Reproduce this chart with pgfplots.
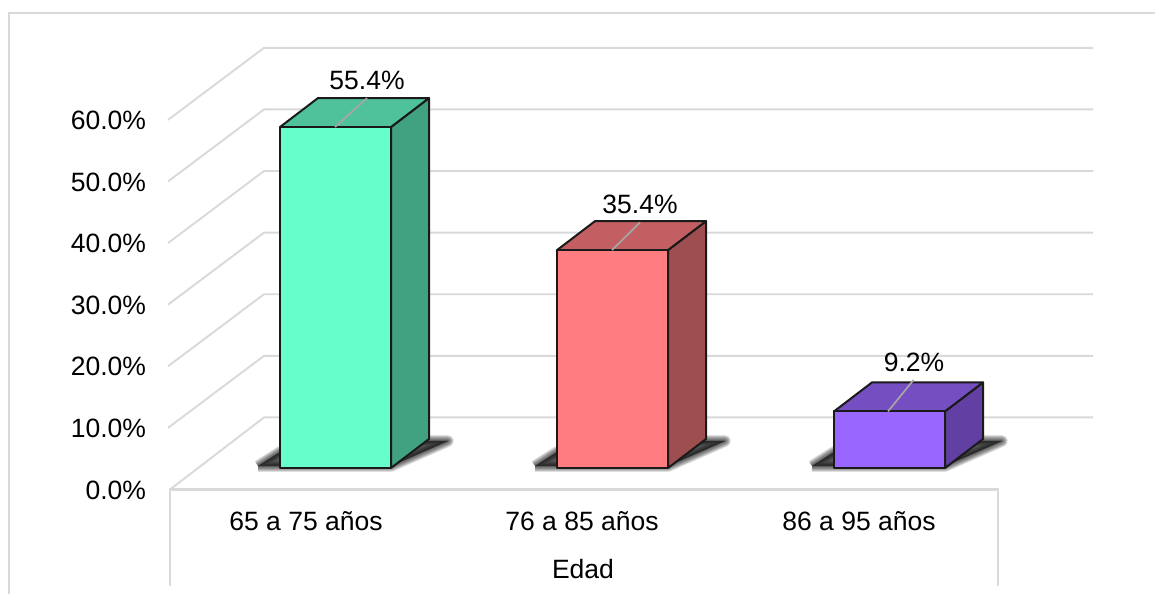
\documentclass[border=0pt]{standalone}
\usepackage{pgfplots}
\pgfplotsset{compat=1.18}
\usepackage{fontspec}
\setmainfont{Liberation Sans}
\newcommand\lab{\fontsize{26.5}{30}\selectfont}
\definecolor{gridc}{HTML}{D9D9D9}
\definecolor{edgec}{HTML}{1A1A1A}
\definecolor{leadc}{HTML}{A6A6A6}
\definecolor{fa}{HTML}{66FFCC}\definecolor{ta}{HTML}{4FC29B}\definecolor{sa}{HTML}{40A280}
\definecolor{fb}{HTML}{FF7C80}\definecolor{tb}{HTML}{C35F62}\definecolor{sb}{HTML}{9F4E50}
\definecolor{fc}{HTML}{9966FF}\definecolor{tc}{HTML}{754EC2}\definecolor{sc}{HTML}{613FA3}
\pgfplotsset{
  base/.style={scale only axis, width=1156pt, height=595pt, xmin=0, xmax=1156,
    axis line style={draw=none}, tick style={draw=none}, enlargelimits=false},
  grd/.style={draw=gridc, line width=1.9pt, no marks, forget plot},
  edge/.style={draw=edgec, line width=2pt, line join=round, no marks, forget plot},
  frontbar/.style={ybar, bar shift=0pt, bar width=111, draw=edgec, line width=2pt, line join=round, forget plot},
  lead/.style={draw=leadc, line width=1.7pt, no marks, forget plot},
  shad/.style={draw=black, fill=black, draw opacity=0.075, fill opacity=0.075, line width=#1, line join=round, no marks, forget plot},
}
\begin{document}
\begin{tikzpicture}
% back frame: percent scale, with its own ticks
\begin{axis}[base, ymin=-17.127, ymax=79.464,
  ytick={0,10,20,30,40,50,60},
  yticklabel={\pgfmathprintnumber[fixed,fixed zerofill,precision=1,assume math mode=true]{\tick}\%},
  yticklabel style={font=\lab, anchor=east, xshift=149.5pt, yshift=-0.5pt},
  xtick={306,582,859},
  xticklabels={65 a 75 años,76 a 85 años,86 a 95 años},
  xticklabel style={font=\lab, anchor=center, yshift=74pt},
  xlabel={Edad},
  xlabel style={font=\lab, at={(axis cs:583,-12.9)}, anchor=center},
]
\addplot[grd] coordinates {(9,-17)(9,77.35)(1155,77.35)};
\addplot[grd] coordinates {(168,60)(264,71.7)(1093,71.7)};
\addplot[grd] coordinates {(168,50)(264,61.7)(1093,61.7)};
\addplot[grd] coordinates {(168,40)(264,51.7)(1093,51.7)};
\addplot[grd] coordinates {(168,30)(264,41.7)(1093,41.7)};
\addplot[grd] coordinates {(168,20)(264,31.7)(1093,31.7)};
\addplot[grd] coordinates {(168,10)(264,21.7)(1093,21.7)};
\addplot[grd] coordinates {(170,0)(264,11.7)(1093,11.7)};
\addplot[grd, line width=2.2pt] coordinates {(170,-15.6)(170,0)(998,0)(998,-15.6)};
\end{axis}
% bars: true values, 0 at the foot of the bars
\begin{axis}[base, ymin=-20.634, ymax=76.036, xtick=\empty, ytick=\empty]
% shadows
\pgfplotsinvokeforeach{12pt,11pt,10pt,9pt,8pt,7pt,6pt,5pt,4pt,3pt,2pt,1pt}{
\addplot[shad=#1] coordinates {(258,0.32)(391,0.32)(448,4.39)(429,4.39)(391,4.39)(280,2.6)(258,0.32)};
\addplot[shad=#1] coordinates {(535,0.32)(668,0.32)(725,4.39)(706,4.39)(668,4.39)(557,2.6)(535,0.32)};
\addplot[shad=#1] coordinates {(812,0.32)(945,0.32)(1002,4.39)(983,4.39)(945,4.39)(834,2.6)(812,0.32)};
}
% group 1
\addplot[edge, fill=sa] coordinates {(391,0)(429,4.71)(429,60.11)(391,55.4)(391,0)};
\addplot[edge, fill=ta] coordinates {(280,55.4)(318,60.11)(429,60.11)(391,55.4)(280,55.4)};
\addplot[frontbar, fill=fa] coordinates {(335.5,55.4)};
\addplot[lead] coordinates {(335,55.4)(367,60.1)};
% group 2
\addplot[edge, fill=sb] coordinates {(668,0)(706,4.71)(706,40.11)(668,35.4)(668,0)};
\addplot[edge, fill=tb] coordinates {(557,35.4)(595,40.11)(706,40.11)(668,35.4)(557,35.4)};
\addplot[frontbar, fill=fb] coordinates {(612.5,35.4)};
\addplot[lead] coordinates {(612,35.4)(640,39.9)};
% group 3
\addplot[edge, fill=sc] coordinates {(945,0)(983,4.71)(983,13.91)(945,9.2)(945,0)};
\addplot[edge, fill=tc] coordinates {(834,9.2)(872,13.91)(983,13.91)(945,9.2)(834,9.2)};
\addplot[frontbar, fill=fc] coordinates {(889.5,9.2)};
\addplot[lead] coordinates {(888,9.2)(913.5,14.3)};
\node[font=\lab] at (axis cs:367,63.04) {55.4\%};
\node[font=\lab] at (axis cs:640,42.9) {35.4\%};
\node[font=\lab] at (axis cs:914,17.2) {9.2\%};
\end{axis}
\end{tikzpicture}
\end{document}
